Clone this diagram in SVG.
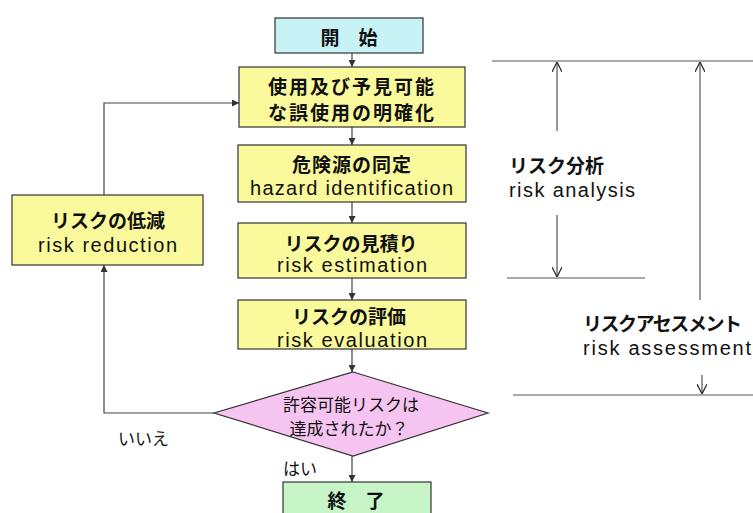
<svg xmlns="http://www.w3.org/2000/svg" width="753" height="513" viewBox="0 0 753 513">
<style>
.box{stroke:#333;stroke-width:1.2}
.y{fill:#fafa9c}
.jb{font-family:"Noto Sans CJK JP","Liberation Sans",sans-serif;font-weight:bold;font-size:19px;fill:#111;dominant-baseline:central}
.jr{font-family:"Noto Sans CJK JP","Liberation Sans",sans-serif;font-size:17px;fill:#111;dominant-baseline:central}
.en{font-family:"Liberation Sans","Noto Sans CJK JP",sans-serif;font-size:20px;fill:#111;dominant-baseline:central}
.c{fill:none;stroke:#444;stroke-width:1.2}
.d{fill:none;stroke:#555;stroke-width:1.2}
</style>
<defs>
<marker id="ah" viewBox="0 0 10 10" refX="10" refY="5" markerWidth="7" markerHeight="7" markerUnits="userSpaceOnUse" orient="auto"><path d="M0,0 L10,5 L0,10 z" fill="#333"/></marker>
<marker id="oh" viewBox="0 0 10 10" refX="10" refY="5" markerWidth="10" markerHeight="10" markerUnits="userSpaceOnUse" orient="auto"><path d="M0,0 L10,5 L0,10" fill="none" stroke="#333" stroke-width="1.3"/></marker>
</defs>
<rect width="753" height="513" fill="#fff"/>
<g id="connectors">
<line class="c" x1="352" y1="53" x2="352" y2="67" marker-end="url(#ah)"/>
<line class="c" x1="352" y1="127" x2="352" y2="145" marker-end="url(#ah)"/>
<line class="c" x1="352" y1="202" x2="352" y2="223" marker-end="url(#ah)"/>
<line class="c" x1="352" y1="278" x2="352" y2="300" marker-end="url(#ah)"/>
<line class="c" x1="352" y1="349" x2="352" y2="372" marker-end="url(#ah)"/>
<line class="c" x1="352" y1="456" x2="352" y2="482" marker-end="url(#ah)"/>
<path class="c" d="M214,413 H104 V265" marker-end="url(#ah)"/>
<path class="c" d="M104,195 V103 H239" marker-end="url(#ah)"/>
</g>
<g id="start"><rect class="box" x="275" y="18" width="148" height="35" fill="#c8f3f6"/><text class="jb" x="349" y="36" text-anchor="middle">開　始</text></g>
<g id="clarify"><rect class="box y" x="239" y="67" width="226" height="60"/><text class="jb" x="352" y="85" text-anchor="middle" letter-spacing="2">使用及び予見可能</text><text class="jb" x="352" y="111" text-anchor="middle" letter-spacing="2">な誤使用の明確化</text></g>
<g id="hazard"><rect class="box y" x="238" y="145" width="228" height="57"/><text class="jb" x="352" y="163" text-anchor="middle" letter-spacing="1">危険源の同定</text><text class="en" x="250" y="188" textLength="203">hazard identification</text></g>
<g id="estimation"><rect class="box y" x="238" y="223" width="228" height="55"/><text class="jb" x="351" y="242" text-anchor="middle">リスクの見積り</text><text class="en" x="277" y="265" textLength="150">risk estimation</text></g>
<g id="evaluation"><rect class="box y" x="238" y="300" width="228" height="49"/><text class="jb" x="349" y="315" text-anchor="middle">リスクの評価</text><text class="en" x="277" y="340" textLength="150">risk evaluation</text></g>
<g id="reduction"><rect class="box y" x="12" y="195" width="191" height="70"/><text class="jb" x="108" y="219" text-anchor="middle">リスクの低減</text><text class="en" x="38" y="245" textLength="139">risk reduction</text></g>
<g id="decision"><polygon class="box" points="353,372 488,413 353,456 214,413" fill="#f5c4f0"/><text class="jr" x="351" y="403" text-anchor="middle">許容可能リスクは</text><text class="jr" x="349" y="427" text-anchor="middle">達成されたか？</text></g>
<g id="end"><rect class="box" x="283" y="482" width="148" height="36" fill="#c8f5c8"/><text class="jb" x="356" y="499" text-anchor="middle" font-size="18">終　了</text></g>
<text class="jr" x="118" y="437" font-size="16">いいえ</text>
<text class="jr" x="283" y="467" font-size="16">はい</text>
<g id="dimensions">
<line class="d" x1="492" y1="61" x2="753" y2="61"/>
<line class="d" x1="507" y1="278" x2="645" y2="278"/>
<line class="d" x1="513" y1="395" x2="753" y2="395"/>
<line class="d" x1="557" y1="131" x2="557" y2="62" marker-end="url(#oh)"/>
<line class="d" x1="557" y1="215" x2="557" y2="277" marker-end="url(#oh)"/>
<line class="d" x1="700" y1="300" x2="700" y2="62" marker-end="url(#oh)"/>
<line class="d" x1="702" y1="375" x2="702" y2="394" marker-end="url(#oh)"/>
</g>
<g id="analysis-label"><text class="jb" x="509" y="164">リスク分析</text><text class="en" x="509" y="190" textLength="126">risk analysis</text></g>
<g id="assessment-label"><text class="jb" x="583" y="322" font-size="18" textLength="159">リスクアセスメント</text><text class="en" x="583" y="348" textLength="168">risk assessment</text></g>
</svg>
